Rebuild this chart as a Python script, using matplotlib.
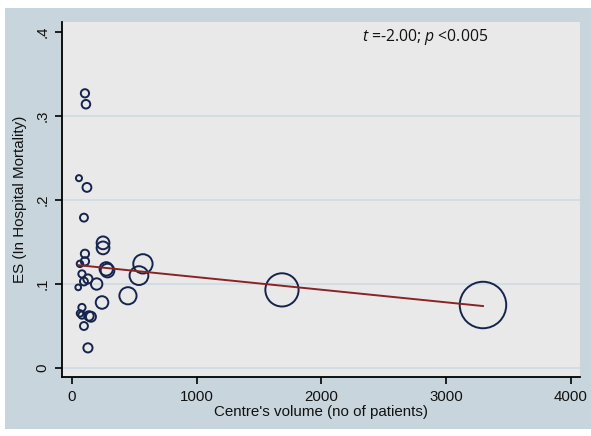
import matplotlib
matplotlib.use("Agg")
import matplotlib.pyplot as plt
from matplotlib.patches import Rectangle
import numpy as np

plt.rcParams["mathtext.fontset"] = "custom"
plt.rcParams["mathtext.it"] = "Open Sans:italic"
plt.rcParams["mathtext.rm"] = "Open Sans"

# Centre volume (no of patients) and effect size (in-hospital mortality)
volume = [104, 112, 56, 120, 96, 249, 249, 104, 104, 64, 275, 285, 80, 128, 96,
          50, 198, 569, 537, 449, 241, 80, 64, 80, 136, 152, 96, 128, 1684, 3296]
es = [0.327, 0.314, 0.226, 0.215, 0.179, 0.149, 0.143, 0.136, 0.127, 0.124,
      0.118, 0.116, 0.112, 0.106, 0.103, 0.096, 0.100, 0.124, 0.110, 0.086,
      0.078, 0.072, 0.065, 0.063, 0.062, 0.061, 0.050, 0.024, 0.093, 0.075]

# Meta-regression fit line
fit_intercept = 0.1232
fit_slope = -1.5e-5

xticks = [0, 1000, 2000, 3000, 4000]
yticks = [0, 0.1, 0.2, 0.3, 0.4]
ytick_labels = ["0", ".1", ".2", ".3", ".4"]
xlabel = "Centre's volume (no of patients)"
ylabel = "ES (In Hospital Mortality)"

W, H = 591, 436
fig = plt.figure(figsize=(W / 100, H / 100), dpi=100)
fig.patch.set_facecolor("white")
fig.patches.append(Rectangle((5 / W, 7 / H), (W - 5) / W, (428 - 7) / H,
                             transform=fig.transFigure, facecolor="#c9d5dc",
                             edgecolor="none", zorder=-5))

l, r, t, b = 62, 580, 22, 377
ax = fig.add_axes([l / W, (H - b) / H, (r - l) / W, (b - t) / H])
ax.set_zorder(2)
ax.set_facecolor("#e9e9e9")

ax.set_xlim(-80, 4074)
ax.set_ylim(-0.0107, 0.4119)

for yv in yticks[:-1]:
    ax.axhline(yv, color="#d2dde3", lw=1.4, zorder=1)

vol = np.array(volume, dtype=float)
sizes = 0.34 * vol
ax.scatter(vol, es, s=sizes, facecolors="none", edgecolors="#16244c",
           linewidths=1.4, zorder=3)

fx = np.array([vol.min(), vol.max()])
ax.plot(fx, fit_intercept + fit_slope * fx, color="#8a2424", lw=1.4, zorder=4)

ax.set_xticks(xticks)
ax.set_xticklabels([str(v) for v in xticks])
ax.set_yticks(yticks)
ax.set_yticklabels(ytick_labels, rotation=90, va="center")

font = "Liberation Sans"
for lab in ax.get_xticklabels() + ax.get_yticklabels():
    lab.set_fontfamily(font)
    lab.set_fontsize(10.8)
    lab.set_color("#111111")
ax.tick_params(direction="out", length=5, width=1.2, color="black", pad=4)

ax.set_xlabel(xlabel, fontfamily=font, fontsize=10.9, labelpad=1, color="#111111")
ax.set_ylabel(ylabel, fontfamily=font, fontsize=10.9, labelpad=6, color="#111111")

for s in ["top", "right"]:
    ax.spines[s].set_visible(False)
for s in ["left", "bottom"]:
    ax.spines[s].set_linewidth(1.3)
    ax.spines[s].set_color("black")

ax.text(0.70, 0.958, r"$t$ =-2.00; $p$ <0.005", transform=ax.transAxes,
        ha="center", va="center", fontsize=11.3, fontfamily="Open Sans",
        color="#111111")

fig.savefig("out.png", dpi=100, facecolor=fig.get_facecolor())
